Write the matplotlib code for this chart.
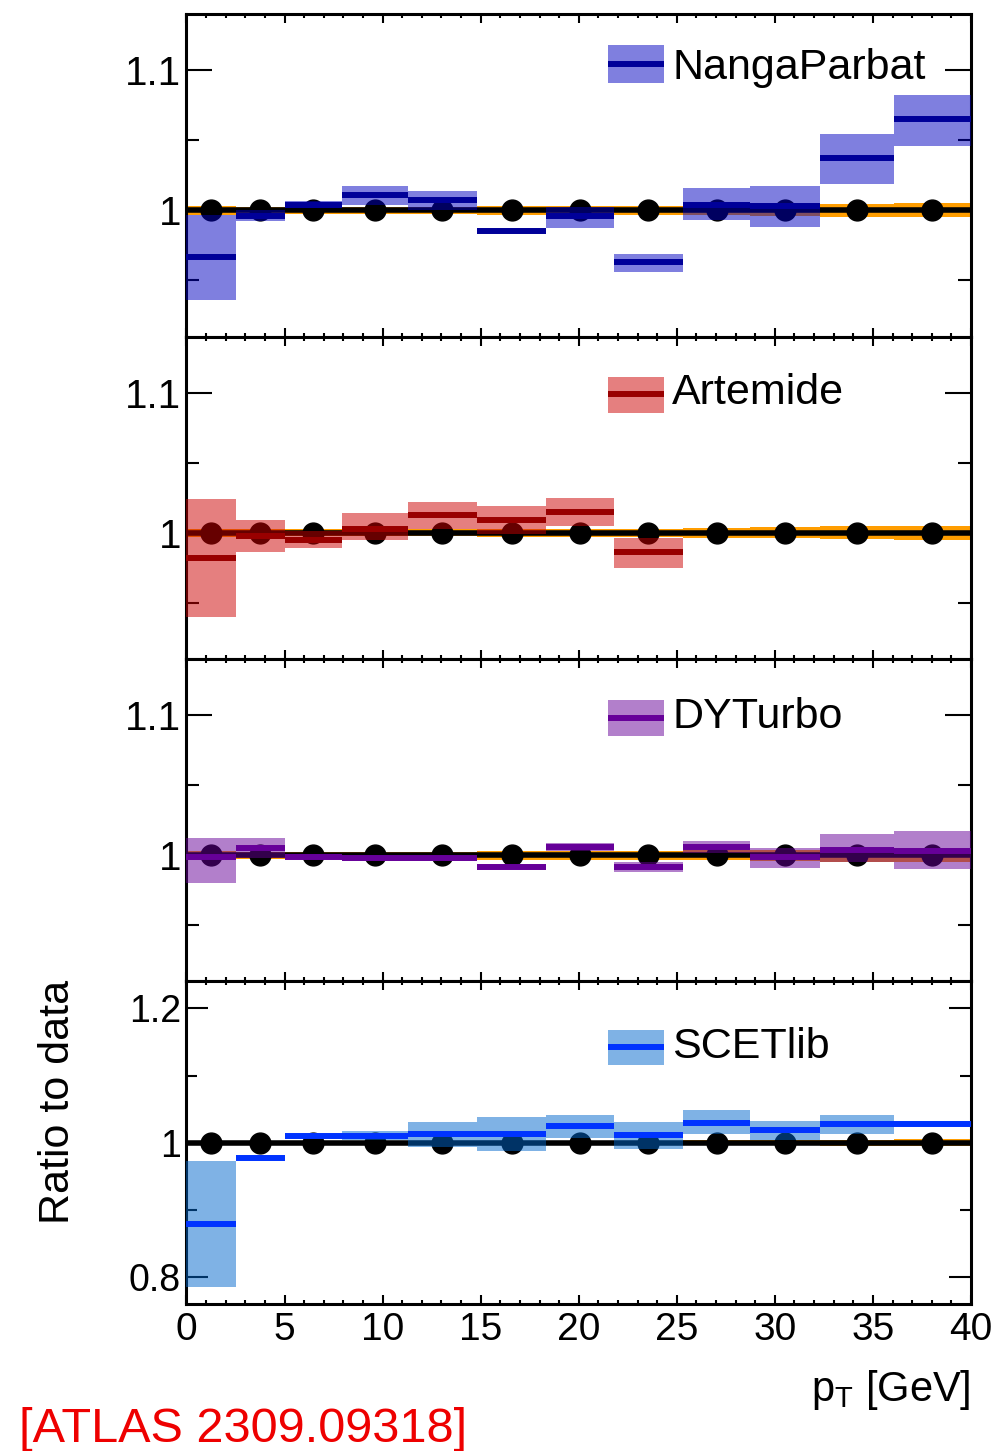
import numpy as np
import matplotlib
matplotlib.use('Agg')
import matplotlib.pyplot as plt
from matplotlib.patches import Rectangle
from matplotlib.ticker import FixedLocator, MultipleLocator, NullFormatter

plt.rcParams['font.family'] = ['Liberation Sans', 'DejaVu Sans']
plt.rcParams['mathtext.fontset'] = 'custom'
plt.rcParams['mathtext.rm'] = 'Liberation Sans'

# pT binning [GeV]
pt_edges = [0.0, 2.5, 5.0, 7.95, 11.3, 14.8, 18.35, 21.8, 25.3, 28.75, 32.3, 36.05, 40.0]

# data (ratio to itself) and its relative uncertainty
data_ratio = [1.0, 1.0, 1.0, 1.0, 1.0, 1.0, 1.0, 1.0, 1.0, 1.0, 1.0, 1.0]
data_err = [0.003, 0.0025, 0.0025, 0.0025, 0.0025, 0.003, 0.003, 0.003, 0.0035, 0.004, 0.0045, 0.005]

# NangaParbat / data
nanga_central = [0.967, 0.996, 1.004, 1.011, 1.007, 0.985, 0.996, 0.963, 1.004, 1.003, 1.037, 1.065]
nanga_lo = [0.936, 0.9925, 1.0016, 1.004, 1.000, 0.984, 0.9877, 0.9563, 0.993, 0.988, 1.019, 1.046]
nanga_hi = [0.997, 1.0005, 1.0063, 1.0175, 1.014, 0.986, 1.0025, 0.9687, 1.0156, 1.017, 1.0544, 1.0825]

# Artemide / data (first 8 bins only)
art_central = [0.982, 0.998, 0.995, 1.003, 1.013, 1.009, 1.015, 0.986]
art_lo = [0.940, 0.986, 0.989, 0.995, 1.003, 0.9995, 1.005, 0.975]
art_hi = [1.024, 1.009, 1.001, 1.014, 1.022, 1.019, 1.025, 0.9965]

# DYTurbo / data
dyt_central = [0.999, 1.005, 0.999, 0.998, 0.998, 0.992, 1.006, 0.992, 1.006, 0.999, 1.004, 1.003]
dyt_lo = [0.980, 0.998, 0.9985, 0.9975, 0.997, 0.991, 1.003, 0.988, 1.002, 0.991, 0.995, 0.990]
dyt_hi = [1.012, 1.012, 0.9995, 0.9985, 0.999, 0.993, 1.009, 0.995, 1.010, 1.005, 1.015, 1.017]

# SCETlib / data
scet_central = [0.879, 0.977, 1.010, 1.010, 1.013, 1.013, 1.025, 1.011, 1.030, 1.019, 1.028, 1.028]
scet_lo = [0.785, 0.9755, 1.0085, 1.004, 0.994, 0.988, 1.0065, 0.991, 1.0125, 1.004, 1.013, 1.027]
scet_hi = [0.973, 0.9785, 1.0115, 1.017, 1.031, 1.038, 1.042, 1.031, 1.0486, 1.032, 1.042, 1.029]

models = [
    ('NangaParbat', nanga_central, nanga_lo, nanga_hi, '#0000c0', '#000099'),
    ('Artemide', art_central, art_lo, art_hi, '#cc0000', '#990000'),
    ('DYTurbo', dyt_central, dyt_lo, dyt_hi, '#660099', '#660099'),
    ('SCETlib', scet_central, scet_lo, scet_hi, '#0066cc', '#0033ff'),
]

edges = np.array(pt_edges)
centers = 0.5 * (edges[:-1] + edges[1:])
widths = edges[1:] - edges[:-1]

fig = plt.figure(figsize=(10.01, 14.51), dpi=100)
gs = fig.add_gridspec(4, 1, left=0.1863, right=0.970, top=0.99035, bottom=0.10131, hspace=0)
axes = [fig.add_subplot(gs[i]) for i in range(4)]

# legend placement (axes fraction): box bottom, box top, line y, text baseline
leg_pos = [(0.786, 0.904, 0.845, 0.800),
           (0.764, 0.875, 0.821, 0.791),
           (0.762, 0.873, 0.818, 0.785),
           (0.741, 0.850, 0.796, 0.762)]

for i, (ax, (name, cen, lo, hi, band_c, line_c)) in enumerate(zip(axes, models)):
    n = len(cen)
    lo = np.array(lo)
    hi = np.array(hi)

    # data uncertainty band, data line and points
    ax.bar(centers, 2 * np.array(data_err), bottom=1 - np.array(data_err), width=widths,
           color='#ff9d00', lw=0, zorder=1)
    ax.axhline(1.0, color='black', lw=4, zorder=2)
    ax.plot(centers, data_ratio, 'o', color='black', ms=15, zorder=3)

    # prediction band and central value
    ax.bar(centers[:n], hi - lo, bottom=lo, width=widths[:n], color=band_c, alpha=0.5,
           lw=0, zorder=4)
    ax.hlines(cen, edges[:n], edges[1:n + 1], colors=line_c, lw=4.3, zorder=5,
              capstyle='butt')

    # legend entry
    b0, b1, ly, ty = leg_pos[i]
    ax.add_patch(Rectangle((0.537, b0), 0.0713, b1 - b0, transform=ax.transAxes,
                           facecolor=band_c, alpha=0.5, lw=0, zorder=6))
    ax.plot([0.537, 0.6083], [ly, ly], transform=ax.transAxes, color=line_c, lw=4.3,
            solid_capstyle='butt', zorder=7)
    ax.text(0.619, ty, name, transform=ax.transAxes, fontsize=31, ha='left',
            va='baseline', zorder=7)

    ax.set_xlim(0, 40)
    ax.xaxis.set_major_locator(MultipleLocator(5))
    ax.xaxis.set_minor_locator(MultipleLocator(1))
    for sp in ax.spines.values():
        sp.set_linewidth(2.2)

    if i < 3:
        ax.set_ylim(0.91, 1.14)
        ax.yaxis.set_major_locator(FixedLocator([1.0, 1.1]))
        ax.yaxis.set_minor_locator(FixedLocator([0.95, 1.05]))
        ax.set_yticklabels(['1', '1.1'])
        ylab_size = 29
        ymaj, ymin = 19, 9.4
    else:
        ax.set_ylim(0.76, 1.24)
        ax.yaxis.set_major_locator(FixedLocator([0.8, 1.0, 1.2]))
        ax.yaxis.set_minor_locator(FixedLocator([0.9, 1.1]))
        ax.set_yticklabels(['0.8', '1', '1.2'])
        ylab_size = 27
        ymaj, ymin = 15.6, 7.7

    ax.tick_params(which='both', direction='in', top=True, right=True, width=1.5)
    ax.tick_params(axis='x', which='major', length=6.5, labelsize=28, pad=6)
    ax.tick_params(axis='x', which='minor', length=3.2)
    ax.tick_params(axis='y', which='major', length=ymaj, labelsize=ylab_size, pad=4)
    ax.tick_params(axis='y', which='minor', length=ymin)
    if i < 3:
        ax.xaxis.set_major_formatter(NullFormatter())

fig.text(0.058, 1 - 1102 / 1451, 'Ratio to data', rotation=90, ha='center', va='center',
         fontsize=31)
fig.text(971 / 1001, 1 - 1401 / 1451, r'p$_{\mathregular{T}}$ [GeV]', ha='right',
         va='baseline', fontsize=30)
fig.text(19 / 1001, 1 - 1442 / 1451, '[ATLAS 2309.09318]', ha='left', va='baseline',
         fontsize=35, color='#ee0000')

fig.savefig('out.png', dpi=100)
